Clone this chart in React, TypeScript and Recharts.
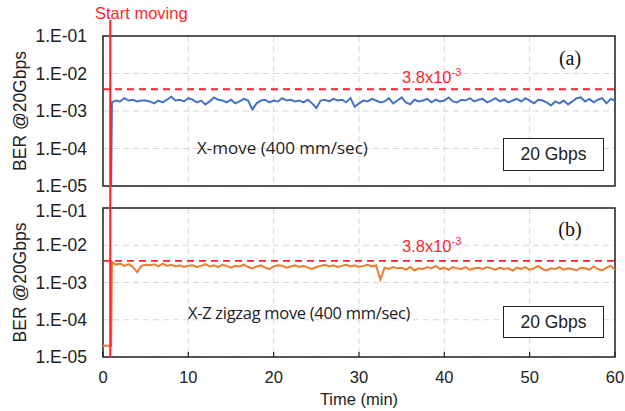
import React from "react";
import {
    LineChart,
    Line,
    XAxis,
    YAxis,
    CartesianGrid,
    ReferenceLine,
    ReferenceArea,
} from "recharts";

// axes
const timeTicks = [0, 10, 20, 30, 40, 50, 60];
const berTicks = [1e-5, 1e-4, 1e-3, 1e-2, 1e-1];
const fecLimit = 3.8e-3;
const startMoving = 0.85;

// sampling times once moving (min)
const tMoving = [
    1.5, 2, 2.5, 3, 3.5, 4, 4.5, 5, 5.5, 6,
    6.5, 7, 7.5, 8, 8.5, 9, 9.5, 10, 10.5, 11,
    11.5, 12, 12.5, 13, 13.5, 14, 14.5, 15, 15.5, 16,
    16.5, 17, 17.5, 18, 18.5, 19, 19.5, 20, 20.5, 21,
    21.5, 22, 22.5, 23, 23.5, 24, 24.5, 25, 25.5, 26,
    26.5, 27, 27.5, 28, 28.5, 29, 29.5, 30, 30.5, 31,
    31.5, 32, 32.5, 33, 33.5, 34, 34.5, 35, 35.5, 36,
    36.5, 37, 37.5, 38, 38.5, 39, 39.5, 40, 40.5, 41,
    41.5, 42, 42.5, 43, 43.5, 44, 44.5, 45, 45.5, 46,
    46.5, 47, 47.5, 48, 48.5, 49, 49.5, 50, 50.5, 51,
    51.5, 52, 52.5, 53, 53.5, 54, 54.5, 55, 55.5, 56,
    56.5, 57, 57.5, 58, 58.5, 59, 59.5, 60,
];

// (a) X-move, BER in units of 1e-3
const xStartTime = [0.95, 1.05];
const xStartBer = [0.01, 1.7];
const xMoveBer = [
    1.9, 1.8, 2.2, 1.9, 2.0, 1.8, 1.9, 1.9, 1.8, 1.6,
    1.9, 1.7, 2.0, 2.4, 1.9, 2.0, 1.8, 2.2, 2.0, 1.7,
    1.9, 1.5, 1.8, 2.3, 2.0, 1.9, 1.7, 2.0, 1.6, 1.8,
    2.1, 1.9, 1.1, 1.6, 1.9, 2.0, 1.7, 1.9, 1.8, 2.2,
    1.9, 2.0, 1.8, 1.9, 1.7, 2.0, 1.6, 1.2, 1.9, 2.0,
    1.8, 2.1, 1.9, 2.0, 1.7, 2.2, 1.3, 1.6, 1.9, 1.8,
    2.1, 1.9, 1.7, 1.8, 2.2, 1.6, 1.9, 2.3, 1.7, 1.5,
    2.0, 1.8, 1.9, 2.1, 1.7, 2.0, 1.8, 1.9, 2.3, 1.8,
    1.7, 2.0, 1.9, 2.2, 1.8, 2.0, 2.1, 1.7, 1.9, 2.2,
    1.8, 2.0, 1.7, 1.9, 2.1, 1.8, 2.2, 1.9, 1.6, 2.0,
    1.9, 1.7, 1.4, 1.8, 1.6, 1.9, 1.5, 1.8, 2.2, 2.3,
    1.8, 2.1, 1.7, 2.0, 2.2, 1.6, 2.1, 1.9,
];

// (b) X-Z zigzag move, BER in units of 1e-3
const zStartTime = [0, 0.95, 1.05];
const zStartBer = [0.02, 0.02, 3.6];
const zMoveBer = [
    3.0, 3.2, 2.8, 3.1, 2.6, 1.9, 2.8, 3.0, 2.9, 3.1,
    2.7, 3.2, 2.8, 3.0, 2.7, 2.9, 2.6, 2.8, 2.9, 2.6,
    2.8, 3.1, 2.7, 2.9, 2.6, 3.0, 2.8, 2.5, 2.8, 2.7,
    3.0, 2.6, 2.4, 2.7, 2.9, 2.5, 2.3, 2.7, 2.9, 2.8,
    2.5, 2.7, 2.9, 2.6, 2.8, 2.5, 2.3, 2.6, 2.8, 3.0,
    2.7, 2.9, 2.6, 2.8, 3.0, 2.7, 2.9, 2.6, 2.8, 3.0,
    2.7, 2.9, 1.2, 2.5, 2.3, 2.6, 2.4, 2.5, 2.2, 2.6,
    2.1, 2.4, 2.3, 2.6, 2.4, 2.8, 2.3, 2.5, 2.2, 2.6,
    2.4, 2.3, 2.6, 2.2, 2.4, 2.5, 2.3, 2.6, 2.4, 2.2,
    2.5, 2.3, 2.4, 2.1, 2.5, 2.3, 2.6, 2.2, 2.4, 2.8,
    2.3, 2.1, 2.4, 2.3, 2.6, 2.2, 2.4, 2.3, 2.1, 2.5,
    2.4, 2.2, 2.7, 2.3, 2.1, 2.5, 2.8, 2.2,
];

const toRows = (t: number[], v: number[]) => t.map((x, i) => ({ t: x, ber: v[i] * 1e-3 }));

const xMoveData = toRows(xStartTime.concat(tMoving), xStartBer.concat(xMoveBer));
const zMoveData = toRows(zStartTime.concat(tMoving), zStartBer.concat(zMoveBer));

const fmtBer = (v: number) => "1.E-0" + Math.round(-Math.log10(v));

const FONT = "'Liberation Sans', Arial, sans-serif";
const RED = "#ff1f2d";

// vertical "start moving" line, stretched past the plot box
const startShape = (extTop: number, extBottom: number) => (p: any) => (
    <line
        x1={p.x1}
        x2={p.x2}
        y1={Math.min(p.y1, p.y2) - extTop}
        y2={Math.max(p.y1, p.y2) + extBottom}
        stroke={RED}
        strokeWidth={2}
    />
);

interface PanelProps {
    data: { t: number; ber: number }[];
    color: string;
    height: number;
    marginTop: number;
    marginBottom: number;
    xAxisHeight: number;
    showTimeLabels: boolean;
    extTop: number;
    extBottom: number;
}

function Panel({ data, color, height, marginTop, marginBottom, xAxisHeight, showTimeLabels, extTop, extBottom }: PanelProps) {
    return (
        <LineChart
            width={625}
            height={height}
            data={data}
            margin={{ top: marginTop, right: 10, bottom: marginBottom, left: 0 }}
        >
            <CartesianGrid stroke="#d6d6d6" strokeDasharray="6 4" strokeWidth={1} />
            <XAxis
                dataKey="t"
                type="number"
                domain={[0, 60]}
                ticks={timeTicks}
                height={xAxisHeight}
                axisLine={false}
                tickSize={-5}
                tickMargin={19}
                tickLine={{ stroke: "#222", strokeWidth: 1.2 }}
                tick={{ fontSize: 16.5, fill: "#222", fontFamily: FONT }}
                tickFormatter={(v: number) => (showTimeLabels ? String(v) : "")}
                label={
                    showTimeLabels
                        ? { value: "Time (min)", position: "insideBottom", offset: 6, fontSize: 16.5, fill: "#222", fontFamily: FONT }
                        : undefined
                }
            />
            <YAxis
                dataKey="ber"
                scale="log"
                domain={[1e-5, 1e-1]}
                ticks={berTicks}
                allowDataOverflow
                width={103}
                axisLine={false}
                tickLine={false}
                tickSize={0}
                tickMargin={16}
                tickFormatter={fmtBer}
                tick={{ fontSize: 17.5, fill: "#222", fontFamily: FONT }}
                label={{
                    value: "BER @20Gbps",
                    angle: -90,
                    position: "insideLeft",
                    offset: 20,
                    fontSize: 17.5,
                    fill: "#222",
                    fontFamily: FONT,
                    style: { textAnchor: "middle" },
                }}
            />
            <ReferenceArea x1={0} x2={60} y1={1e-5} y2={1e-1} fill="none" stroke="#222" strokeWidth={1.5} />
            <ReferenceLine y={fecLimit} stroke={RED} strokeWidth={1.8} strokeDasharray="7 5" />
            <Line
                type="linear"
                dataKey="ber"
                stroke={color}
                strokeWidth={2}
                dot={false}
                isAnimationActive={false}
            />
            <ReferenceLine x={startMoving} shape={startShape(extTop, extBottom)} />
        </LineChart>
    );
}

const abs = (x: number, y: number, center = false): React.CSSProperties => ({
    position: "absolute",
    left: x,
    top: y,
    lineHeight: 1,
    whiteSpace: "nowrap",
    transform: center ? "translate(-50%, -50%)" : "translate(0, -50%)",
});

const gbpsBox = (top: number, h: number): React.CSSProperties => ({
    position: "absolute",
    left: 503,
    top,
    width: 101,
    height: h,
    boxSizing: "border-box",
    border: "1.5px solid #222",
    background: "#fff",
    display: "flex",
    alignItems: "center",
    justifyContent: "center",
    fontFamily: FONT,
    fontSize: 17.5,
    color: "#222",
});

export default function App() {
    return (
        <div style={{ position: "absolute", left: 0, top: 0, width: 625, height: 411, background: "#fff", overflow: "hidden" }}>
            <div style={{ position: "absolute", left: 0, top: 0 }}>
                <Panel
                    data={xMoveData}
                    color="#4472c4"
                    height={200}
                    marginTop={36}
                    marginBottom={14}
                    xAxisHeight={0}
                    showTimeLabels={false}
                    extTop={16}
                    extBottom={14}
                />
            </div>
            <div style={{ position: "absolute", left: 0, top: 200 }}>
                <Panel
                    data={zMoveData}
                    color="#ed7d31"
                    height={211}
                    marginTop={8}
                    marginBottom={0}
                    xAxisHeight={54}
                    showTimeLabels={true}
                    extTop={8}
                    extBottom={0}
                />
            </div>

            <div style={{ ...abs(95, 13), fontFamily: FONT, fontSize: 16.5, color: RED }}>Start moving</div>

            <div style={{ ...abs(570, 58, true), fontFamily: "'Liberation Serif', serif", fontSize: 20, color: "#111" }}>(a)</div>
            <div style={{ ...abs(570, 229, true), fontFamily: "'Liberation Serif', serif", fontSize: 20, color: "#111" }}>(b)</div>

            <div style={{ ...abs(402, 76), fontFamily: FONT, fontSize: 16.5, color: RED }}>
                3.8x10<sup style={{ fontSize: 11, verticalAlign: 7 }}>-3</sup>
            </div>
            <div style={{ ...abs(402, 245), fontFamily: FONT, fontSize: 16.5, color: RED }}>
                3.8x10<sup style={{ fontSize: 11, verticalAlign: 7 }}>-3</sup>
            </div>

            <div style={{ ...abs(197, 147), fontFamily: "'Open Sans', sans-serif", fontSize: 17, color: "#222" }}>
                X-move (400 mm/sec)
            </div>
            <div style={{ ...abs(188, 313), fontFamily: "'Open Sans', sans-serif", fontSize: 16.5, color: "#222", letterSpacing: -0.3 }}>
                X-Z zigzag move (400 mm/sec)
            </div>

            <div style={gbpsBox(138, 33)}>20 Gbps</div>
            <div style={gbpsBox(306, 32)}>20 Gbps</div>
        </div>
    );
}
